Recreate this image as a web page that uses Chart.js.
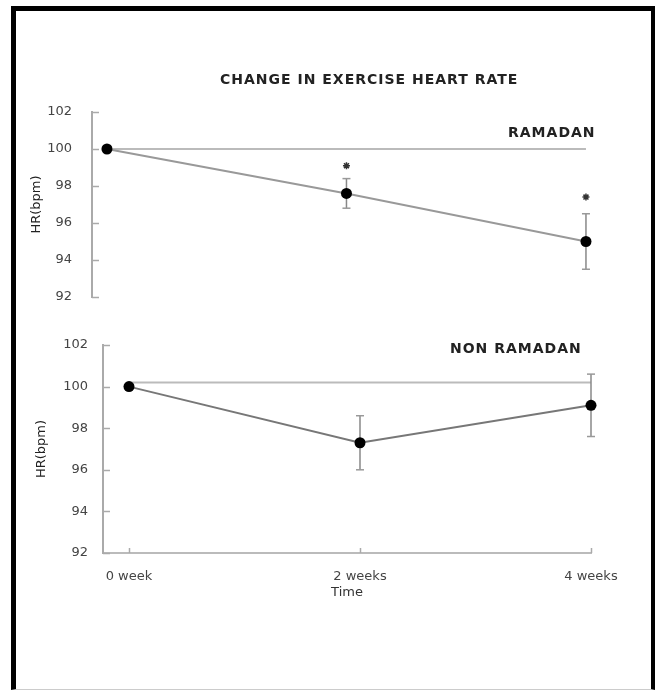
<!DOCTYPE html>
<html>
<head>
<meta charset="utf-8">
<script src="https://cdn.jsdelivr.net/npm/chart.js@4"></script>
<style>
  body { margin: 0; width: 655px; height: 690px; overflow: hidden; background: #fff; font-family: "DejaVu Sans", sans-serif; }
  .frame { position: absolute; left: 11px; top: 6px; width: 644px; height: 684px; box-sizing: border-box;
           border-left: 5px solid #000; border-top: 5px solid #000; border-right: 4px solid #000; border-bottom: 1px solid #ccc; }
  .layer { position: absolute; left: 0; top: 0; }
  .lbl { position: absolute; white-space: nowrap; font-weight: bold; font-size: 14px; letter-spacing: 1px; color: #222; }
</style>
</head>
<body>
<div class="frame"></div>
<canvas id="graficaArriba" class="layer" width="655" height="690"></canvas>
<canvas id="graficaAbajo" class="layer" width="655" height="690"></canvas>
<div class="lbl" style="left:220px; top:71px;">CHANGE IN EXERCISE HEART RATE</div>
<div class="lbl" style="left:508px; top:124px;">RAMADAN</div>
<div class="lbl" style="left:450px; top:340px;">NON RAMADAN</div>
<script>
// datos
var semanas = [0, 2, 4];
var etiquetasSemanas = ['0 week', '2 weeks', '4 weeks'];
var ticksY = [92, 94, 96, 98, 100, 102];

var hrRamadan = [100, 97.6, 95.0];
var errRamadan = [0, 0.8, 1.5];
var asteriscosRamadan = [null, 99.1, 97.4];
var referenciaRamadan = 100;

var hrNoRamadan = [100, 97.3, 99.1];
var errNoRamadan = [0, 1.3, 1.5];
var referenciaNoRamadan = 100.2;

var fuente = { family: 'DejaVu Sans', size: 13 };

// marcas cortas hacia adentro en los ejes
var marcasAdentro = {
    id: 'marcasAdentro',
    afterDraw: function (chart) {
        var ctx = chart.ctx;
        var area = chart.chartArea;
        ctx.save();
        ctx.strokeStyle = '#aaa';
        ctx.lineWidth = 1.5;
        var y = chart.scales.y;
        y.ticks.forEach(function (t) {
            var py = Math.round(y.getPixelForValue(t.value)) + 0.5;
            ctx.beginPath();
            ctx.moveTo(area.left, py);
            ctx.lineTo(area.left + 7, py);
            ctx.stroke();
        });
        var x = chart.scales.x;
        if (x.options.display) {
            x.ticks.forEach(function (t) {
                var px = Math.round(x.getPixelForValue(t.value)) + 0.5;
                ctx.beginPath();
                ctx.moveTo(px, area.bottom);
                ctx.lineTo(px, area.bottom - 5);
                ctx.stroke();
            });
        }
        ctx.restore();
    }
};

function armarDatasets(valores, errores, referencia, asteriscos, colorLinea) {
    var sets = [];
    sets.push({
        data: semanas.map(function (s, i) { return { x: s, y: valores[i] }; }),
        borderColor: colorLinea,
        borderWidth: 2,
        pointRadius: 5.5,
        pointBorderWidth: 0,
        pointBackgroundColor: '#000',
        pointBorderColor: '#000',
        order: 1
    });
    semanas.forEach(function (s, i) {
        if (!errores[i]) return;
        sets.push({
            data: [{ x: s, y: valores[i] - errores[i] }, { x: s, y: valores[i] + errores[i] }],
            borderColor: '#888',
            borderWidth: 1.5,
            pointStyle: 'line',
            pointRadius: 4,
            pointBorderWidth: 1.5,
            pointBorderColor: '#999',
            order: 2
        });
    });
    if (asteriscos) {
        sets.push({
            data: semanas.map(function (s, i) { return { x: s, y: asteriscos[i] }; }).filter(function (p) { return p.y !== null; }),
            showLine: false,
            pointStyle: 'star',
            pointRadius: 3.5,
            pointBorderWidth: 1.5,
            pointBorderColor: '#333',
            order: 1
        });
    }
    sets.push({
        data: [{ x: semanas[0], y: referencia }, { x: semanas[semanas.length - 1], y: referencia }],
        borderColor: '#bbb',
        borderWidth: 2,
        pointRadius: 0,
        order: 3
    });
    return sets;
}

function ejeY(ancho, relleno) {
    return {
        min: 92,
        max: 102,
        afterBuildTicks: function (s) { s.ticks = ticksY.map(function (v) { return { value: v }; }); },
        afterFit: function (s) { s.width = ancho; },
        grid: { display: false },
        border: { display: true, color: '#aaa', width: 2 },
        ticks: { padding: relleno, font: fuente, color: '#444' },
        title: { display: true, text: 'HR(bpm)', font: fuente, color: '#222' }
    };
}

var opcionesComunes = {
    responsive: false,
    animation: false,
    events: [],
    clip: false,
    plugins: { legend: { display: false }, tooltip: { enabled: false } },
    elements: { line: { tension: 0 } }
};

var graficaArriba = new Chart(document.getElementById('graficaArriba').getContext('2d'), {
    type: 'line',
    data: { datasets: armarDatasets(hrRamadan, errRamadan, referenciaRamadan, asteriscosRamadan, '#999') },
    options: Object.assign({}, opcionesComunes, {
        layout: { padding: { left: 25, top: 112, right: 67, bottom: 393 } },
        scales: {
            x: { type: 'linear', display: false, min: -0.125, max: 4.017 },
            y: ejeY(67, 12)
        }
    }),
    plugins: [marcasAdentro]
});

var graficaAbajo = new Chart(document.getElementById('graficaAbajo').getContext('2d'), {
    type: 'line',
    data: { datasets: armarDatasets(hrNoRamadan, errNoRamadan, referenciaNoRamadan, null, '#777') },
    options: Object.assign({}, opcionesComunes, {
        layout: { padding: { left: 30, top: 345, right: 64, bottom: 86 } },
        scales: {
            x: {
                type: 'linear',
                min: -0.225,
                max: 4,
                afterBuildTicks: function (s) { s.ticks = semanas.map(function (v) { return { value: v }; }); },
                afterFit: function (s) { s.height = 51; },
                grid: { display: false },
                border: { display: true, color: '#bbb', width: 2 },
                ticks: {
                    padding: 8,
                    font: fuente,
                    color: '#444',
                    maxRotation: 0,
                    callback: function (v) { return etiquetasSemanas[semanas.indexOf(v)]; }
                },
                title: { display: true, text: 'Time', font: fuente, color: '#333', padding: { top: 4, bottom: 4 } }
            },
            y: ejeY(73, 7)
        }
    }),
    plugins: [marcasAdentro]
});
</script>
</body>
</html>
